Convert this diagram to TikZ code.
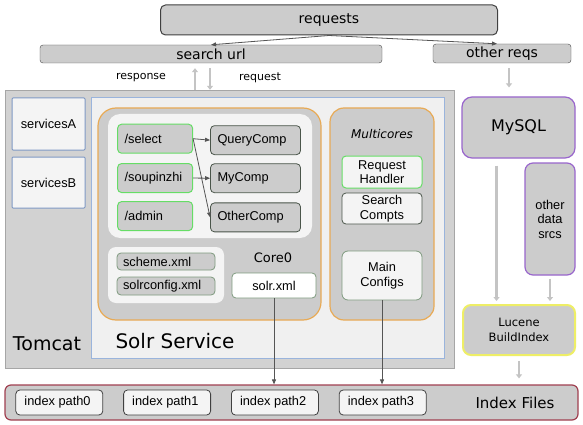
\documentclass[tikz,border=0pt]{standalone}
\usepackage{fontspec}
\setmainfont{Liberation Sans}
\newfontfamily\handfont{DejaVu Sans}
\usepackage{tikz}
\usetikzlibrary{arrows.meta, positioning, calc, matrix}

\definecolor{boxgray}{HTML}{CCCCCC}
\definecolor{tomgray}{HTML}{D2D2D2}
\definecolor{panelfill}{HTML}{F0F0F0}
\definecolor{lightfill}{HTML}{F4F4F4}
\definecolor{solrblue}{HTML}{9AB4DC}
\definecolor{servblue}{HTML}{7F99C4}
\definecolor{coreorange}{HTML}{E8AA55}
\definecolor{handgreen}{HTML}{66DD66}
\definecolor{confgreen}{HTML}{7E9A7E}
\definecolor{compdark}{HTML}{4A554A}
\definecolor{sqlpurple}{HTML}{9966CC}
\definecolor{luceneyellow}{HTML}{EEEE66}
\definecolor{idxred}{HTML}{A04050}
\definecolor{flowgray}{HTML}{C4C4C4}
\definecolor{linkgray}{HTML}{555555}

\newcommand{\boxfont}{\fontsize{12.8}{14.5}\selectfont}
\newcommand{\handsize}[1]{\handfont\fontsize{#1}{#1}\selectfont}

\tikzset{
  basebox/.style={draw, rounded corners=4pt, inner sep=0pt, align=center, font=\boxfont},
  dims/.style 2 args={minimum width=#1, minimum height=#2},
  graybox/.style={basebox, fill=boxgray, draw=#1},
  panel/.style={basebox, fill=lightfill, draw=#1},
  xmlfile/.style={basebox, fill=boxgray, draw=confgreen, line width=0.8pt, minimum height=17pt,
    text width=86pt, inner xsep=6pt, align=left},
  flowarrow/.style={draw=flowgray, line width=2.5pt, -{Triangle[length=4pt,width=6pt]}},
  linkarrow/.style={draw=linkgray, line width=0.8pt, -{Triangle[length=5pt,width=4pt]}},
}

\begin{document}
\begin{tikzpicture}[x=1pt, y=-1pt]
  \fill[white] (0,0) rectangle (583,425);
  \useasboundingbox (0,0) rectangle (583,425);

  % incoming requests
  \node[graybox=black!75, line width=1pt, rounded corners=5pt, dims={337pt}{30pt}, font=\handsize{14}] (requests) at (329,20) {requests};
  \node[graybox=gray!60!black, rounded corners=3pt, dims={342pt}{18pt}, font=\handsize{14}] (searchurl) at (211,54) {search url};
  \node[graybox=gray!60!black, rounded corners=3pt, dims={138pt}{19pt}, font=\handsize{14}] (otherreqs) at (502,53.5) {other reqs};
  \node[font=\handsize{11}] (resplabel) at (141,78) {response};
  \node[font=\handsize{11}] (reqlabel) at (260,78) {request};

  % Tomcat and Solr
  \node[draw=gray!70, fill=tomgray, dims={449pt}{278pt}] (tomcat) at (229.5,229) {};
  \node[font=\handsize{19}] (tomcatlabel) at (47,344) {Tomcat};
  \node[basebox, rounded corners=1pt, fill=lightfill, draw=servblue, line width=1pt, dims={73pt}{52pt}] (servA) at (48.5,124) {servicesA};
  \node[basebox, rounded corners=1pt, fill=lightfill, draw=servblue, line width=1pt, dims={73pt}{51pt}] (servB) at (48.5,182.5) {servicesB};
  \node[fill=panelfill, draw=solrblue, line width=1pt, dims={353pt}{260pt}] (solr) at (267.5,228) {};
  \node[font=\handsize{20}] (solrlabel) at (175,341) {Solr Service};

  % core0
  \node[graybox=coreorange, line width=1.2pt, rounded corners=18pt, dims={223pt}{212pt}] (core) at (209.5,214) {};
  \node[panel=none, rounded corners=12pt, dims={204pt}{124pt}] (handlers) at (210,176) {};
  \matrix (hc) [matrix of nodes, row sep=8pt, column sep=17pt,
    nodes={basebox, fill=boxgray, minimum height=29pt, inner xsep=7pt, align=left},
    column 1/.style={nodes={draw=handgreen, line width=1pt, text width=61pt}},
    column 2/.style={nodes={draw=compdark, line width=0.8pt, text width=76pt}},
    ] at (209,178) {
    /select & QueryComp \\
    /soupinzhi & MyComp \\
    /admin & OtherComp \\
  };
  \draw[linkarrow] (hc-1-1.east) -- (hc-1-2.west);
  \draw[linkarrow] (hc-1-1.east) -- (hc-3-2.west);
  \draw[linkarrow] (hc-2-1.east) -- (hc-2-2.west);

  \node[panel=none, rounded corners=8pt, dims={116pt}{56pt}] (xmls) at (166,275) {};
  \node[xmlfile] (scheme) at (166,261.5) {scheme.xml};
  \node[xmlfile, minimum height=18pt] (solrconfig) at (166,286) {solrconfig.xml};
  \node[font=\handsize{13}] (corelabel) at (273,258) {Core0};
  \node[basebox, fill=white, draw=confgreen, line width=0.8pt, dims={84pt}{25pt}] (solrxml) at (274,285.5) {solr.xml};

  % multicores
  \node[graybox=coreorange, line width=1.2pt, rounded corners=14pt, dims={104pt}{212pt}] (multi) at (382,214) {};
  \node[font=\handsize{12}\itshape] (multilabel) at (382,134) {Multicores};
  \node[panel=handgreen, line width=1pt, dims={80pt}{32pt}] (reqhandler) at (382,172) {Request\\Handler};
  \node[panel=compdark, line width=0.8pt, dims={80pt}{31pt}] (searchcompts) at (382,208.5) {Search\\Compts};
  \node[panel=confgreen, line width=0.8pt, rounded corners=6pt, dims={80pt}{49pt}] (mainconfigs) at (382,275.5) {Main\\Configs};

  % other data sources
  \node[graybox=sqlpurple, line width=1.2pt, rounded corners=10pt, dims={113pt}{61pt}, font=\handsize{16}] (mysql) at (518.5,127.5) {MySQL};
  \node[graybox=sqlpurple, line width=1.2pt, rounded corners=8pt, dims={50pt}{112pt}] (otherdata) at (550,219) {other\\data\\srcs};
  \node[graybox=luceneyellow, line width=2pt, rounded corners=8pt, dims={112pt}{50pt}, font=\handfont\fontsize{11.5}{15}\selectfont] (lucene) at (519,330) {Lucene\\BuildIndex};

  % index files
  \node[graybox=idxred, line width=1.2pt, rounded corners=6pt, dims={573pt}{35pt}] (idxfiles) at (291.5,402.5) {};
  \node[font=\handsize{15}] (idxlabel) at (515,403) {Index Files};
  \matrix (paths) [matrix of nodes, column sep=20pt,
    nodes={basebox, fill=lightfill, draw=gray!50!black, line width=0.8pt, minimum width=87pt, minimum height=25pt},
    ] at (221,402.5) {
    index path0 & index path1 & index path2 & index path3 \\
  };

  % connectors
  \draw[linkarrow] (requests.south) -- (searchurl.north);
  \draw[linkarrow] (requests.south) -- ($(otherreqs.north)+(-5,0)$);
  \draw[flowarrow, shorten >=5pt] ($(searchurl.south |- tomcat.north)+(-16,0)$) -- ($(searchurl.south)+(-16,0)$);
  \draw[flowarrow, shorten <=5pt] ($(searchurl.south)+(-1,0)$) -- ($(searchurl.south |- tomcat.north)+(-1,0)$);
  \draw[flowarrow, shorten <=5pt, shorten >=9pt] ($(otherreqs.south)+(7,0)$) -- ($(otherreqs.south |- mysql.north)+(7,0)$);
  \draw[flowarrow, shorten <=7pt, shorten >=3pt] ($(mysql.south)+(-22,0)$) -- ($(mysql.south |- lucene.north)+(-22,0)$);
  \draw[flowarrow, shorten <=3pt, shorten >=3pt] (otherdata.south) -- (otherdata.south |- lucene.north);
  \draw[flowarrow, shorten <=5pt, shorten >=6pt] (lucene.south) -- (lucene.south |- idxfiles.north);
  \draw[linkarrow] (solrxml.south) -- (solrxml.south |- idxfiles.north);
  \draw[linkarrow] (mainconfigs.south) -- (mainconfigs.south |- idxfiles.north);
\end{tikzpicture}
\end{document}
